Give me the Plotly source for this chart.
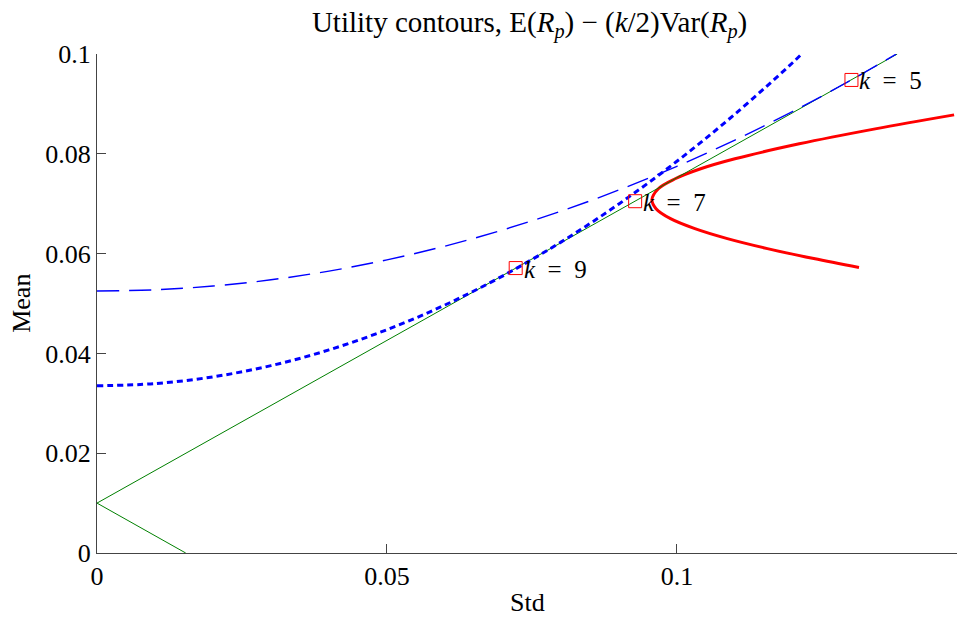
import plotly.graph_objects as go

# Efficient frontier of risky assets (std, mean)
frontier_std = [0.1478, 0.1342, 0.1211, 0.1100, 0.1041, 0.0997, 0.0968, 0.0957,
                0.0964, 0.0989, 0.1031, 0.1087, 0.1156, 0.1236, 0.1314]
frontier_mean = [0.0878, 0.0850, 0.0820, 0.0790, 0.0770, 0.0750, 0.0730, 0.0708,
                 0.0690, 0.0670, 0.0650, 0.0630, 0.0610, 0.0590, 0.0572]

# Capital allocation lines from the risk-free rate
cal_up_std = [0.0, 0.1380]
cal_up_mean = [0.010, 0.100]
cal_down_std = [0.0, 0.0153]
cal_down_mean = [0.010, 0.0]

# Utility contour for k = 9 (dotted)
u9_std = [0.0, 0.01, 0.02, 0.03, 0.04, 0.05, 0.06, 0.07, 0.08, 0.09, 0.10, 0.11, 0.12, 0.1215]
u9_mean = [0.0335, 0.03395, 0.0353, 0.03755, 0.0407, 0.04475, 0.0497, 0.05555,
           0.0623, 0.06995, 0.0785, 0.08795, 0.0983, 0.1000]

# Utility contour for k = 5 (dashed)
u5_std = [0.0, 0.01, 0.02, 0.03, 0.04, 0.05, 0.06, 0.07, 0.08, 0.09, 0.10, 0.11, 0.12, 0.13, 0.1378]
u5_mean = [0.0525, 0.05275, 0.0535, 0.05475, 0.0565, 0.05875, 0.0615, 0.06475,
           0.0685, 0.07275, 0.0775, 0.08275, 0.0885, 0.09475, 0.09997]

# Optimal portfolios for each risk aversion
opt_k = [9, 7, 5]
opt_std = [0.0722, 0.0928, 0.1301]
opt_mean = [0.0571, 0.0705, 0.0948]

x_ticks = [0, 0.05, 0.1]
x_tick_labels = ["0", "0.05", "0.1"]
y_ticks = [0, 0.02, 0.04, 0.06, 0.08, 0.1]
y_tick_labels = ["0", "0.02", "0.04", "0.06", "0.08", "0.1"]

SERIF = "Liberation Serif"

fig = go.Figure()

fig.add_trace(go.Scatter(x=frontier_std, y=frontier_mean, mode="lines",
                         line=dict(color="#FF0000", width=3, shape="spline"),
                         hoverinfo="skip"))
fig.add_trace(go.Scatter(x=cal_up_std, y=cal_up_mean, mode="lines",
                         line=dict(color="#008000", width=1), hoverinfo="skip"))
fig.add_trace(go.Scatter(x=cal_down_std, y=cal_down_mean, mode="lines",
                         line=dict(color="#008000", width=1), hoverinfo="skip"))
fig.add_trace(go.Scatter(x=u9_std, y=u9_mean, mode="lines",
                         line=dict(color="#0000FF", width=3, dash="6px,4px", shape="spline"),
                         hoverinfo="skip"))
fig.add_trace(go.Scatter(x=u5_std, y=u5_mean, mode="lines",
                         line=dict(color="#0000FF", width=1.4, dash="22px,10px", shape="spline"),
                         hoverinfo="skip"))
fig.add_trace(go.Scatter(x=opt_std, y=opt_mean, mode="markers",
                         marker=dict(symbol="square-open", size=13, color="#FF0000",
                                     line=dict(width=1, color="#FF0000")),
                         hoverinfo="skip"))

annotations = []
for k, sx, sy in zip(opt_k, opt_std, opt_mean):
    annotations.append(dict(x=sx, y=sy, xref="x", yref="y", xanchor="left", yanchor="middle",
                            xshift=6, yshift=-1, showarrow=False,
                            text=f"<i>k</i>  =  {k}",
                            font=dict(family=SERIF, size=25, color="black")))

annotations.append(dict(x=0.5, y=-0.099, xref="paper", yref="paper", showarrow=False,
                        xanchor="center", yanchor="middle", text="Std",
                        font=dict(family=SERIF, size=26, color="black")))
annotations.append(dict(x=-0.088, y=0.5, xref="paper", yref="paper", showarrow=False,
                        xanchor="center", yanchor="middle", text="Mean", textangle=-90,
                        font=dict(family=SERIF, size=26, color="black")))

fig.update_layout(
    width=957, height=619,
    margin=dict(l=97, r=0, t=54, b=66),
    paper_bgcolor="white", plot_bgcolor="white",
    showlegend=False,
    title=dict(text="Utility contours, E(<i>R<sub>p</sub></i>) − (<i>k</i>/2)Var(<i>R<sub>p</sub></i>)",
               x=0.503, xref="paper", xanchor="center",
               y=1 - 22 / 619, yref="container", yanchor="middle",
               font=dict(family=SERIF, size=29, color="black")),
    annotations=annotations,
    xaxis=dict(range=[0, 0.1483], tickvals=x_ticks, ticktext=x_tick_labels,
               showgrid=False, zeroline=False, showline=True, linecolor="#444",
               linewidth=1, ticks="inside", ticklen=9, tickcolor="#444",
               tickfont=dict(family=SERIF, size=26, color="black")),
    yaxis=dict(range=[0, 0.1], tickvals=y_ticks, ticktext=y_tick_labels,
               showgrid=False, zeroline=False, showline=True, linecolor="#444",
               linewidth=1, ticks="inside", ticklen=9, tickcolor="#444",
               tickfont=dict(family=SERIF, size=26, color="black")),
)

fig.write_html("out.html")
